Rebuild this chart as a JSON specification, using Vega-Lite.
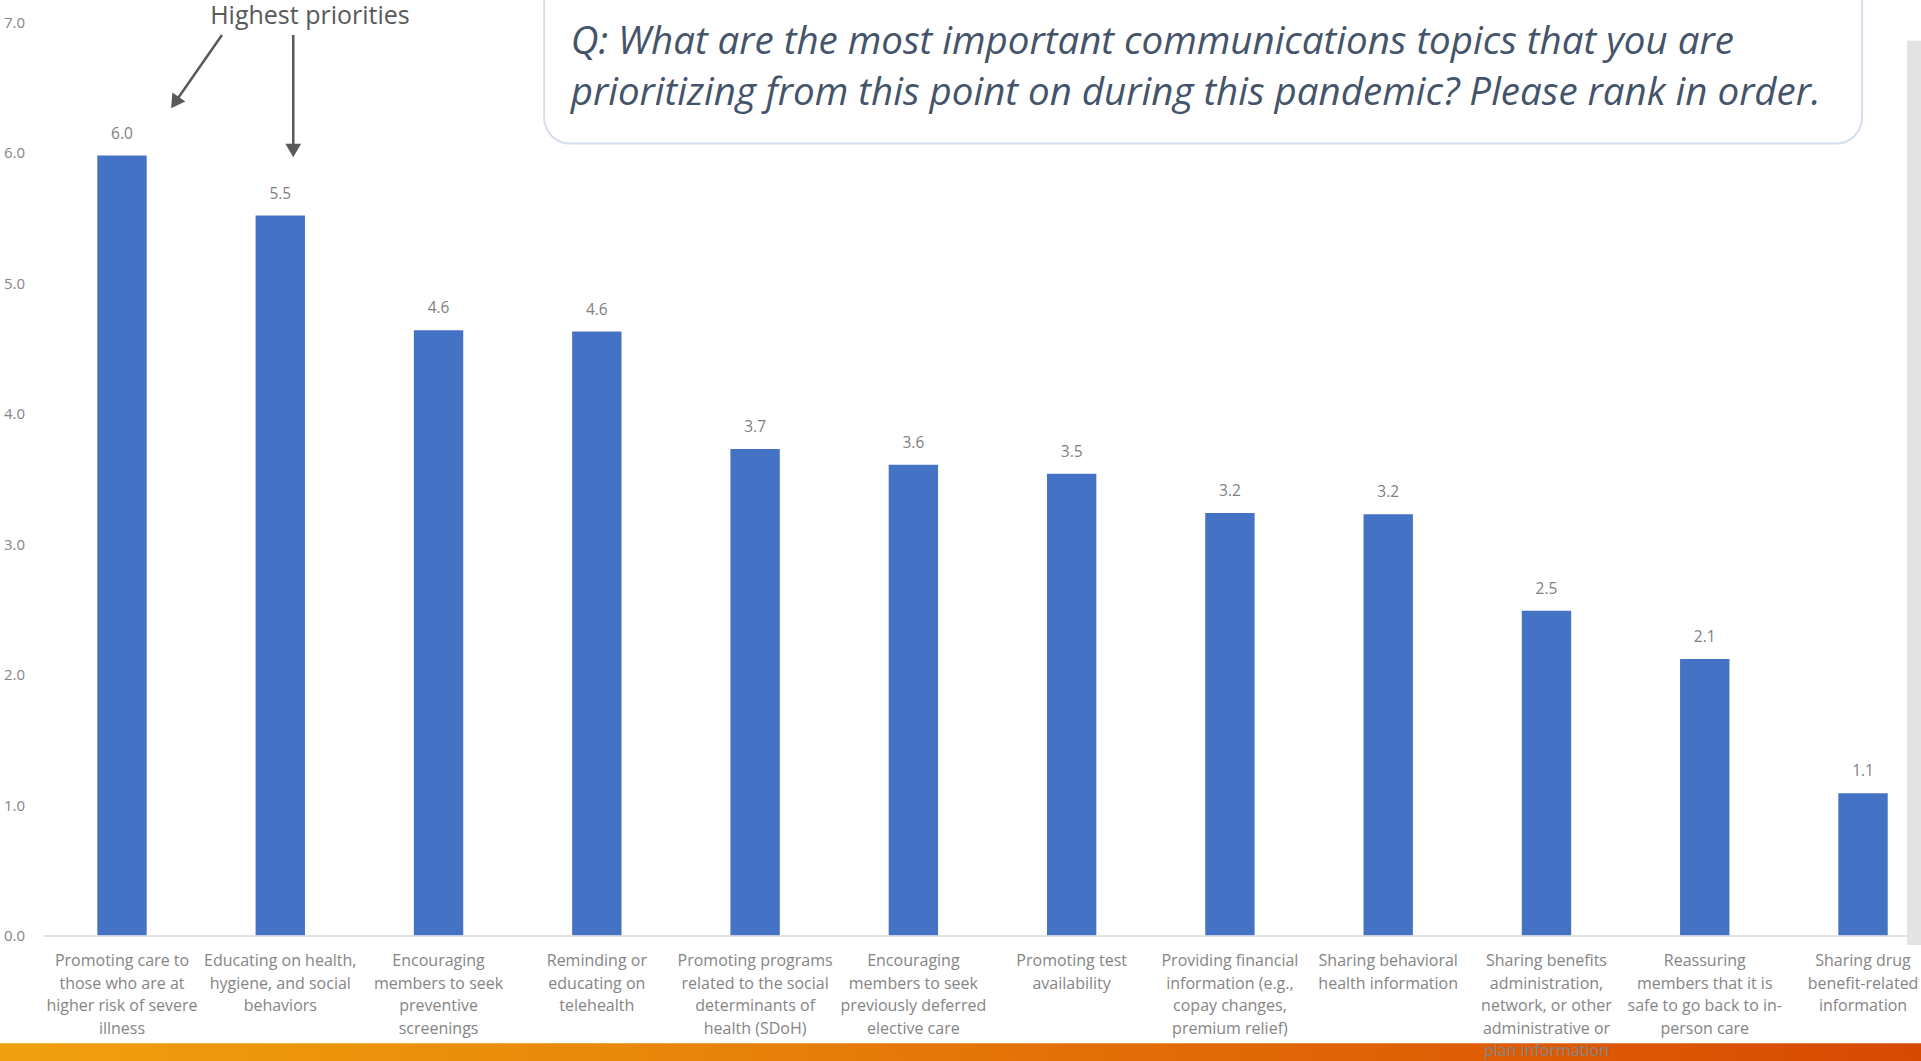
{
  "$schema": "https://vega.github.io/schema/vega-lite/v6.json",
  "width": 1864,
  "height": 913,
  "autosize": {"type": "none"},
  "padding": {"left": 43, "top": 22.5, "right": 14, "bottom": 125.5},
  "background": "#FFFFFF",
  "config": {"view": {"stroke": null}, "font": "Open Sans"},
  "resolve": {"scale": {"x": "independent"}, "axis": {"x": "independent"}},
  "layer": [
    {
      "data": {"values": [
        {"topic": "Promoting care to\nthose who are at\nhigher risk of severe\nillness", "score": 5.98},
        {"topic": "Educating on health,\nhygiene, and social\nbehaviors", "score": 5.52},
        {"topic": "Encouraging\nmembers to seek\npreventive\nscreenings", "score": 4.64},
        {"topic": "Reminding or\neducating on\ntelehealth", "score": 4.63},
        {"topic": "Promoting programs\nrelated to the social\ndeterminants of\nhealth (SDoH)", "score": 3.73},
        {"topic": "Encouraging\nmembers to seek\npreviously deferred\nelective care", "score": 3.61},
        {"topic": "Promoting test\navailability", "score": 3.54},
        {"topic": "Providing financial\ninformation (e.g.,\ncopay changes,\npremium relief)", "score": 3.24},
        {"topic": "Sharing behavioral\nhealth information", "score": 3.23},
        {"topic": "Sharing benefits\nadministration,\nnetwork, or other\nadministrative or\nplan information", "score": 2.49},
        {"topic": "Reassuring\nmembers that it is\nsafe to go back to in-\nperson care", "score": 2.12},
        {"topic": "Sharing drug\nbenefit-related\ninformation", "score": 1.09}
      ]},
      "encoding": {
        "x": {
          "field": "topic", "type": "nominal", "sort": null,
          "scale": {"paddingInner": 0.688, "paddingOuter": 0.2325, "align": 0.738},
          "axis": {
            "title": null, "labelAngle": 0, "labelExpr": "split(datum.label, '\\n')",
            "labelLineHeight": 22.6, "labelFontSize": 16, "labelColor": "#858585",
            "labelFont": "Open Sans", "labelPadding": 17, "ticks": false, "tickSize": 0,
            "labelLimit": 0, "labelOverlap": false, "labelBaseline": "top", "labelAlign": "center",
            "domainColor": "#D9D9D9", "domainWidth": 1.3, "zindex": 1
          }
        },
        "y": {
          "field": "score", "type": "quantitative",
          "scale": {"domain": [0, 7], "nice": false, "zero": true},
          "axis": {
            "title": null, "domain": false, "ticks": false, "grid": false, "format": ".1f",
            "values": [0, 1, 2, 3, 4, 5, 6, 7], "labelFontSize": 15, "labelColor": "#858585",
            "labelPadding": 18.5, "labelFont": "Open Sans"
          }
        }
      },
      "layer": [
        {"mark": {"type": "bar", "color": "#4472C4"}},
        {
          "mark": {"type": "text", "dy": -17, "baseline": "alphabetic", "fontSize": 15.5, "color": "#7F7F7F", "font": "Open Sans"},
          "encoding": {"text": {"field": "score", "type": "quantitative", "format": ".1f"}}
        }
      ]
    },
    {
      "data": {"values": [{"note": "Q: What are the most important communications topics that you are\nprioritizing from this point on during this pandemic? Please rank in order.", "callout": "Highest priorities"}]},
      "layer": [
        {
          "mark": {"type": "rect", "fill": "#E3E3E3"},
          "encoding": {
            "x": {"datum": 12.28, "type": "quantitative", "scale": {"domain": [0.5, 12.28], "nice": false, "zero": false}, "axis": null},
            "x2": {"datum": 12.6},
            "y": {"datum": 6.86, "type": "quantitative", "scale": {"domain": [0, 7], "nice": false}},
            "y2": {"datum": -0.073}
          }
        },
        {
          "mark": {"type": "rect", "color": {"gradient": "linear", "x1": 0, "y1": 0, "x2": 1, "y2": 0, "stops": [
            {"offset": 0, "color": "#F0A00E"},
            {"offset": 0.3, "color": "#E98A0A"},
            {"offset": 0.55, "color": "#E36F07"},
            {"offset": 0.8, "color": "#DD5A04"},
            {"offset": 1, "color": "#D64802"}
          ]}},
          "encoding": {
            "x": {"datum": 0.228, "type": "quantitative", "scale": {"domain": [0.5, 12.28], "nice": false, "zero": false}, "axis": null},
            "x2": {"datum": 12.6},
            "y": {"datum": -0.8265, "type": "quantitative", "scale": {"domain": [0, 7], "nice": false}},
            "y2": {"datum": -1.05}
          }
        },
        {
          "mark": {"type": "rect", "fill": "#FFFFFF", "stroke": "#D6DEEF", "strokeWidth": 2, "cornerRadius": 26},
          "encoding": {
            "x": {"datum": 3.667, "type": "quantitative", "scale": {"domain": [0.5, 12.28], "nice": false, "zero": false}, "axis": null},
            "x2": {"datum": 11.996},
            "y": {"datum": 6.072, "type": "quantitative", "scale": {"domain": [0, 7], "nice": false}},
            "y2": {"datum": 7.5}
          }
        },
        {
          "mark": {"type": "text", "align": "left", "baseline": "alphabetic", "fontSize": 38.5, "fontStyle": "italic", "font": "Open Sans", "color": "#44546A", "lineBreak": "\n", "lineHeight": 51},
          "encoding": {
            "x": {"datum": 3.835, "type": "quantitative", "scale": {"domain": [0.5, 12.28], "nice": false, "zero": false}, "axis": null},
            "y": {"datum": 6.756, "type": "quantitative", "scale": {"domain": [0, 7], "nice": false}},
            "text": {"field": "note"}
          }
        },
        {
          "mark": {"type": "text", "align": "center", "baseline": "alphabetic", "fontSize": 25, "font": "Open Sans", "color": "#595959"},
          "encoding": {
            "x": {"datum": 2.187, "type": "quantitative", "scale": {"domain": [0.5, 12.28], "nice": false, "zero": false}, "axis": null},
            "y": {"datum": 6.985, "type": "quantitative", "scale": {"domain": [0, 7], "nice": false}},
            "text": {"field": "callout"}
          }
        },
        {
          "mark": {"type": "rule", "color": "#595959", "strokeWidth": 2.5},
          "encoding": {
            "x": {"datum": 1.631, "type": "quantitative", "scale": {"domain": [0.5, 12.28], "nice": false, "zero": false}, "axis": null},
            "y": {"datum": 6.904, "type": "quantitative", "scale": {"domain": [0, 7], "nice": false}},
            "x2": {"datum": 1.334},
            "y2": {"datum": 6.386}
          }
        },
        {
          "mark": {"type": "rule", "color": "#595959", "strokeWidth": 2.5},
          "encoding": {
            "x": {"datum": 2.0815, "type": "quantitative", "scale": {"domain": [0.5, 12.28], "nice": false, "zero": false}, "axis": null},
            "y": {"datum": 6.904, "type": "quantitative", "scale": {"domain": [0, 7], "nice": false}},
            "y2": {"datum": 6.019}
          }
        },
        {
          "mark": {"type": "point", "shape": "triangle-down", "filled": true, "color": "#595959", "opacity": 1, "size": 246, "angle": 34.8},
          "encoding": {
            "x": {"datum": 1.334, "type": "quantitative", "scale": {"domain": [0.5, 12.28], "nice": false, "zero": false}, "axis": null},
            "y": {"datum": 6.386, "type": "quantitative", "scale": {"domain": [0, 7], "nice": false}}
          }
        },
        {
          "mark": {"type": "point", "shape": "triangle-down", "filled": true, "color": "#595959", "opacity": 1, "size": 246},
          "encoding": {
            "x": {"datum": 2.0815, "type": "quantitative", "scale": {"domain": [0.5, 12.28], "nice": false, "zero": false}, "axis": null},
            "y": {"datum": 6.019, "type": "quantitative", "scale": {"domain": [0, 7], "nice": false}}
          }
        }
      ]
    }
  ]
}
